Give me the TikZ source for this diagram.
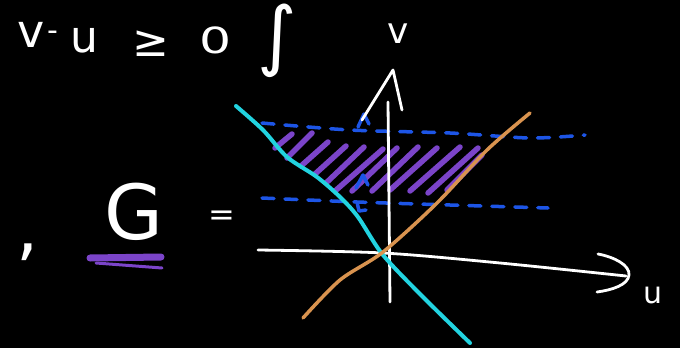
\documentclass[tikz,border=0pt]{standalone}
\usepackage{fontspec}
\newfontfamily\hw{DejaVu Sans}
\definecolor{cyanline}{HTML}{22D3E0}
\definecolor{orangeline}{HTML}{D9934F}
\definecolor{blueline}{HTML}{1D55E6}
\definecolor{purplehatch}{HTML}{7B44C9}
\tikzset{
  txt/.style={text=white, inner sep=0pt, font=\hw\fontsize{#1}{#1}\selectfont},
  axisline/.style={draw=white, line width=2.8pt, line cap=round, line join=round},
  cyanstroke/.style={draw=cyanline, line width=4pt, line cap=round},
  orangestroke/.style={draw=orangeline, line width=3.5pt, line cap=round},
  bluedash/.style={draw=blueline, line width=3.5pt, line cap=round, dash pattern=on 12pt off 11pt},
  bluemark/.style={draw=blueline, line width=3.5pt, line cap=round, line join=round},
  hatch/.style={draw=purplehatch, line width=5.5pt, line cap=round},
}
\begin{document}
\begin{tikzpicture}[x=1pt,y=-1pt]
\useasboundingbox (0,0) rectangle (680,348);
\fill[black] (0,0) rectangle (680,348);

% top formula
\node[txt=46] (v1) at (31,35) {v};
\node[txt=30] (minus) at (53,36) {-};
\node[txt=44] (u1) at (84,40) {u};
\node[txt=44] (geq) at (151,44) {≥};
\node[txt=36] (zero) at (216,40) {\scalebox{1.4}[1]{0}};
\node[txt=76] (intg) at (277,41) {∫};

% G =
\node[txt=70, anchor=base] (comma) at (28,252) {,};
\node[txt=76] (G) at (134,212) {G};
\node[txt=32] (eq) at (222,218) {=};
\draw[draw=purplehatch, line width=7pt, line cap=round] (90,258) -- (161,257);
\draw[draw=purplehatch, line width=3pt, line cap=round] (96,263) -- (162,268);

% hatch
\foreach \a/\b/\c/\d in {275/148/292/134, 287/158/312/133, 301/166/328/142, 315/174/346/146,
  326/183/364/147, 335/191/383/149, 352/191/397/148, 372/191/418/147, 390/190/437/148,
  410/191/460/147, 428/193/478/148, 447/190/482/155}
  \draw[hatch] (\a,\b) -- (\c,\d);

% blue dashed levels
\draw[bluedash] plot[smooth] coordinates {(262,123) (350,130) (450,133) (530,138) (585,135)};
\draw[bluedash] plot[smooth] coordinates {(262,198) (357,202) (450,205) (548,208)};
\draw[bluemark] (358,127) -- (364,114) -- (369,124);
\draw[bluemark] (356,188) -- (363,175) -- (368,185);
\draw[bluemark] (357,202) -- (359,211) -- (366,210);

% axes
\draw[axisline] plot[smooth] coordinates {(258,250) (383,253) (500,263) (626,276)};
\draw[axisline] (598,254) .. controls (614,257) and (630,265) .. (629,275)
  .. controls (628,285) and (612,290) .. (597,292);
\draw[axisline] (388,102) -- (390,302);
\draw[axisline] (362,120) -- (393,70) -- (402,110);
\node[txt=36] (vlabel) at (398,34) {v};
\node[txt=30] (ulabel) at (653,295) {u};

% lines
\draw[cyanstroke] plot[smooth] coordinates {(236,106) (263,130) (287,157) (317,177) (340,197) (358,217) (383,255) (423,297) (470,343)};
\draw[orangestroke] plot[smooth] coordinates {(303,318) (340,280) (383,252) (437,203) (487,150) (530,113)};
\end{tikzpicture}
\end{document}
